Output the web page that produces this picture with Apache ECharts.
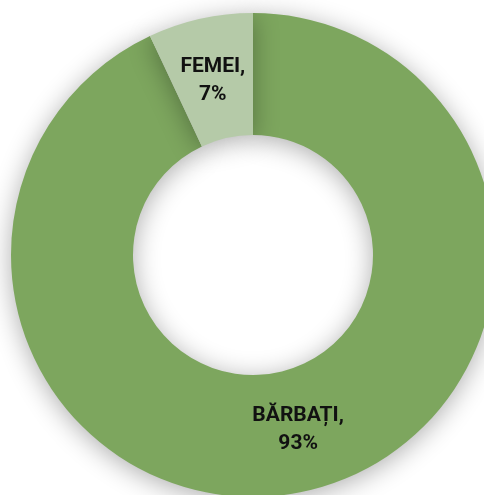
<!DOCTYPE html>
<html>
<head>
<meta charset="utf-8">
<script src="https://cdn.jsdelivr.net/npm/echarts@6/dist/echarts.min.js"></script>
<style>
  html, body { margin: 0; padding: 0; background: #ffffff; }
  #chart { width: 484px; height: 495px; }
</style>
</head>
<body>
<div id="chart"></div>
<script>
// Gender split
const categories = ['BĂRBAȚI', 'FEMEI'];
const shares = [93, 7];
const sliceColors = ['#7DA65E', '#B5CAA8'];
const labelOffsets = [[5, -5], [0, 5]];

const chart = echarts.init(document.getElementById('chart'), null, { renderer: 'canvas' });

chart.setOption({
  backgroundColor: '#ffffff',
  animation: false,
  series: [{
    type: 'pie',
    center: [253, 255],
    radius: [120, 242],
    startAngle: 90,
    clockwise: true,
    avoidLabelOverlap: false,
    itemStyle: {
      shadowBlur: 26,
      shadowOffsetY: 4,
      shadowColor: 'rgba(0,0,0,0.32)'
    },
    label: {
      show: true,
      position: 'inside',
      formatter: p => p.name + ',\n' + p.value + '%',
      color: '#111111',
      fontFamily: 'Roboto',
      fontWeight: 'bold',
      fontSize: 21,
      lineHeight: 28,
      align: 'center'
    },
    labelLine: { show: false },
    data: categories.map((c, i) => ({
      name: c,
      value: shares[i],
      itemStyle: { color: sliceColors[i] },
      label: { offset: labelOffsets[i] }
    }))
  }]
});
</script>
</body>
</html>
